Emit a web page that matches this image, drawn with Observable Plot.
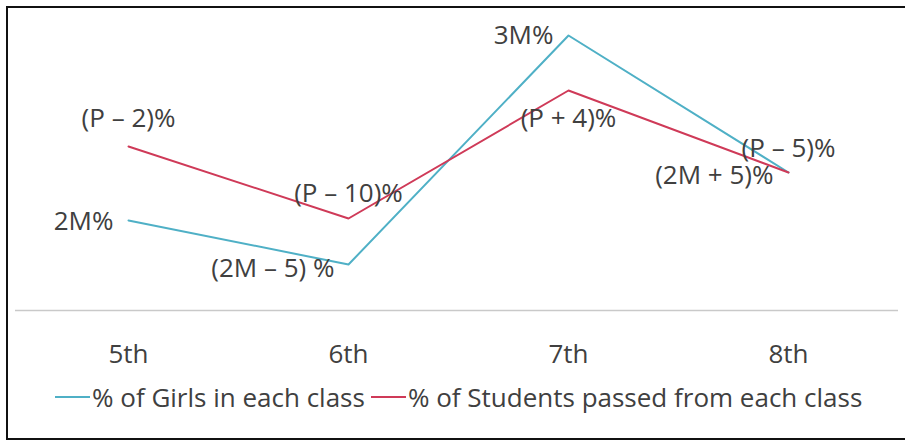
<!DOCTYPE html>
<html>
<head>
<meta charset="utf-8">
<script src="https://cdn.jsdelivr.net/npm/d3@7"></script>
<script src="https://cdn.jsdelivr.net/npm/@observablehq/plot@0.6"></script>
<style>
  html, body { margin: 0; padding: 0; background: #fff; }
  #wrap { position: relative; width: 905px; height: 441px; overflow: hidden; font-family: "Open Sans", sans-serif; color: #404040; }
  #frame { position: absolute; left: 6px; top: 6px; width: 920px; height: 430px; border: 2.5px solid #111; }
  #chart { position: absolute; left: 0; top: 0; }
  #legend { position: absolute; left: 55px; top: 382px; display: flex; align-items: center; font-size: 26px; line-height: 30px; white-space: nowrap; }
  #legend .sw { display: inline-block; width: 35px; height: 2px; margin-right: 2px; }
  #legend .item { display: inline-flex; align-items: center; margin-right: 6px; }
</style>
</head>
<body>
<div id="wrap">
  <div id="frame"></div>
  <div id="chart"></div>
  <div id="legend"></div>
</div>
<script>
// Classes along the x axis
const classes = ["5th", "6th", "7th", "8th"];

// Series values (chart units)
const girlsPct = [18, 9.2, 55, 27.6];
const passedPct = [32.8, 18.4, 44, 27.6];

// Value labels written next to each point
const girlsLabels = ["2M%", "(2M – 5) %", "3M%", "(2M + 5)%"];
const passedLabels = ["(P – 2)%", "(P – 10)%", "(P + 4)%", "(P – 5)%"];

// Series names and colours
const seriesNames = ["% of Girls in each class", "% of Students passed from each class"];
const seriesColors = ["#4fb0c6", "#cf3a58"];

const rows = [];
classes.forEach((c, i) => {
  rows.push({cls: c, value: girlsPct[i], series: seriesNames[0], label: girlsLabels[i], i});
  rows.push({cls: c, value: passedPct[i], series: seriesNames[1], label: passedLabels[i], i});
});
const girls = rows.filter(d => d.series === seriesNames[0]);
const passed = rows.filter(d => d.series === seriesNames[1]);

const font = "'Open Sans', sans-serif";
const txt = "#404040";
const fs = 26;

// Place one value label next to its point
function note(data, i, opts) {
  return Plot.text(data.filter(d => d.i === i), {
    x: "cls", y: "value", text: "label",
    fill: txt, fontSize: fs, fontFamily: font, ...opts
  });
}

const chart = Plot.plot({
  width: 905,
  height: 380,
  marginLeft: 15,
  marginRight: 7,
  marginTop: 20,
  marginBottom: 70,
  style: {background: "transparent", fontFamily: font, color: txt, overflow: "visible"},
  x: {type: "point", domain: classes, range: [127, 788], padding: 0, label: null},
  y: {domain: [0, 55], range: [310, 35], axis: null},
  color: {domain: seriesNames, range: seriesColors},
  marks: [
    Plot.ruleY([0], {stroke: "#c9c9c9", strokeWidth: 1.5}),
    Plot.axisX({tickSize: 0, tickPadding: 34, fontSize: fs, fontFamily: font, fill: txt, label: null}),
    Plot.line(rows, {x: "cls", y: "value", z: "series", stroke: "series", strokeWidth: 2}),
    note(girls, 0, {textAnchor: "end", dx: -15, dy: 1}),
    note(girls, 1, {textAnchor: "end", dx: -14, dy: 4}),
    note(girls, 2, {textAnchor: "end", dx: -15, dy: 0}),
    note(girls, 3, {textAnchor: "end", dx: -15, dy: 3}),
    note(passed, 0, {dy: -28}),
    note(passed, 1, {dy: -25}),
    note(passed, 2, {dy: 28}),
    note(passed, 3, {dy: -24})
  ]
});
document.getElementById("chart").appendChild(chart);

// Legend beneath the plot
const legend = d3.select("#legend");
seriesNames.forEach((name, k) => {
  const item = legend.append("span").attr("class", "item");
  item.append("span").attr("class", "sw").style("background", seriesColors[k]);
  item.append("span").text(name);
});
</script>
</body>
</html>
